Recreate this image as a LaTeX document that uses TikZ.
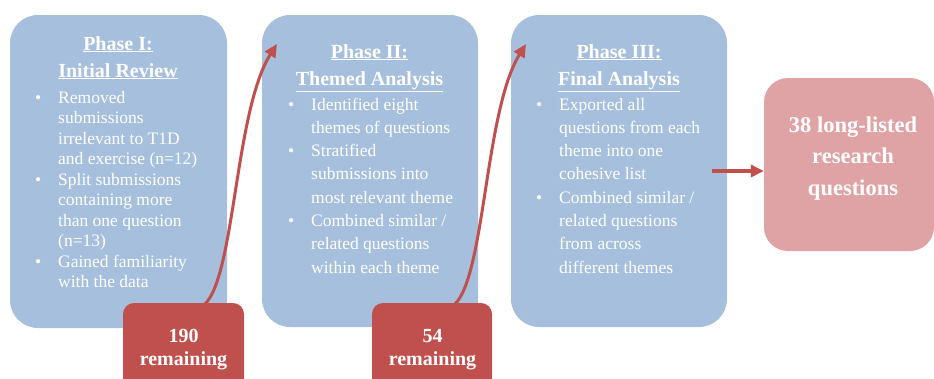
\documentclass[tikz,border=0pt]{standalone}
\usepackage{fontspec}
\setmainfont{Liberation Serif}
\usetikzlibrary{arrows.meta}
\definecolor{phaseblue}{RGB}{166,191,221}
\definecolor{resultpink}{RGB}{224,163,165}
\definecolor{countred}{RGB}{192,80,77}
\tikzset{
  phasebox/.style={fill=phaseblue, draw=none, rounded corners=28pt, inner sep=0pt},
  resultbox/.style={fill=resultpink, draw=none, rounded corners=24pt, inner sep=0pt},
  countbox/.style={fill=countred, draw=none, rounded corners=11pt, inner sep=0pt},
  txt/.style={inner sep=0pt, text=white},
  flowarrow/.style={draw=countred, line width=3pt, -{Triangle[length=13pt,width=12pt]}},
}
\newcommand{\ttl}[2]{\fontsize{20}{27}\selectfont\bfseries\begin{tabular}[t]{@{}c@{}}\underline{#1}\\\underline{#2}\end{tabular}}
\newcommand{\bul}{\makebox[23pt][l]{\textbullet}}
\begin{document}
\begin{tikzpicture}[x=1pt,y=-1pt]
\useasboundingbox (0,0) rectangle (934,378);
\clip (0,0) rectangle (934,378);
% phase boxes
\node[phasebox, minimum width=217pt, minimum height=313pt] (p1) at (118.5,171.5) {};
\node[phasebox, minimum width=216pt, minimum height=312pt] (p2) at (370,171) {};
\node[phasebox, minimum width=216pt, minimum height=312pt] (p3) at (619,171) {};
\node[resultbox, minimum width=170pt, minimum height=173pt] (res) at (849,164.5) {};
% count boxes
\node[countbox, minimum width=121pt, minimum height=90pt] (c1) at (183.5,348) {};
\node[countbox, minimum width=120pt, minimum height=90pt] (c2) at (432,348) {};
% titles
\node[txt, anchor=base] (t1) at (118,50) {\ttl{Phase I:}{Initial Review}};
\node[txt, anchor=base] (t2) at (369.5,58) {\ttl{Phase II:}{Themed Analysis}};
\node[txt, anchor=base] (t3) at (619,58) {\ttl{Phase III:}{Final Analysis}};
% bullets
\node[txt, anchor=base west] (b1) at (35,103) {\fontsize{17.5}{20.5}\selectfont
\begin{tabular}[t]{@{}l@{}l@{}}
\bul & Removed\\
 & submissions\\
 & irrelevant to T1D\\
 & and exercise (n=12)\\
\bul & Split submissions\\
 & containing more\\
 & than one question\\
 & (n=13)\\
\bul & Gained familiarity\\
 & with the data
\end{tabular}};
\node[txt, anchor=base west] (b2) at (288,110) {\fontsize{17.5}{23.3}\selectfont
\begin{tabular}[t]{@{}l@{}l@{}}
\bul & Identified eight\\
 & themes of questions\\
\bul & Stratified\\
 & submissions into\\
 & most relevant theme\\
\bul & Combined similar /\\
 & related questions\\
 & within each theme
\end{tabular}};
\node[txt, anchor=base west] (b3) at (536,110) {\fontsize{17.5}{23.3}\selectfont
\begin{tabular}[t]{@{}l@{}l@{}}
\bul & Exported all\\
 & questions from each\\
 & theme into one\\
 & cohesive list\\
\bul & Combined similar /\\
 & related questions\\
 & from across\\
 & different themes
\end{tabular}};
% result text
\node[txt, anchor=base] (rt) at (853,132) {\fontsize{22.5}{31.5}\selectfont\bfseries
\begin{tabular}[t]{@{}c@{}}38 long-listed\\research\\questions\end{tabular}};
% count texts
\node[txt, anchor=base] (ct1) at (183.5,342) {\fontsize{20}{23}\selectfont\bfseries
\begin{tabular}[t]{@{}c@{}}190\\remaining\end{tabular}};
\node[txt, anchor=base] (ct2) at (432.5,342) {\fontsize{20}{23}\selectfont\bfseries
\begin{tabular}[t]{@{}c@{}}54\\remaining\end{tabular}};
% arrows
\coordinate (s1) at (205,304);
\coordinate (e1) at (277,44);
\coordinate (s2) at (455,304);
\coordinate (e2) at (526,44);
\coordinate (a3s) at (712,171);
\draw[flowarrow] (s1) .. controls (235,275) and (235,110) .. (e1);
\draw[flowarrow] (s2) .. controls (485,275) and (485,110) .. (e2);
\draw[flowarrow, line width=4.5pt] (a3s) -- (res.west |- a3s);
\end{tikzpicture}
\end{document}
